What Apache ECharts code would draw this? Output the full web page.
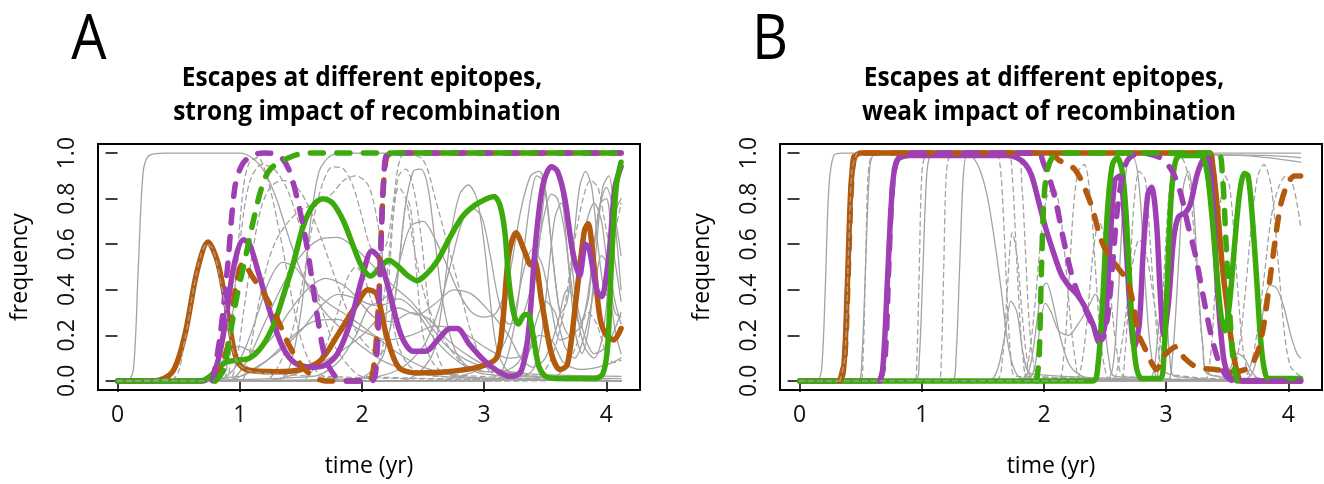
<!DOCTYPE html>
<html><head><meta charset="utf-8">
<script src="https://cdn.jsdelivr.net/npm/echarts@6/dist/echarts.min.js"></script>
<style>html,body{margin:0;padding:0;background:#fff}#chart{width:1324px;height:484px}</style>
</head><body><div id="chart"></div>
<script>
// ---------- axis ticks ----------
const X_TICKS = [0, 1, 2, 3, 4];
const Y_TICKS = [0, 0.2, 0.4, 0.6, 0.8, 1.0];
const PANEL_LETTERS = ['A', 'B'];
const TITLES_A = ['Escapes at different epitopes,', 'strong impact of recombination'];
const TITLES_B = ['Escapes at different epitopes,', 'weak impact of recombination'];
const X_NAME = 'time (yr)';
const Y_NAME = 'frequency';

// ---------- Panel A : highlighted trajectories [time, frequency] ----------
const A_orangeSolid = [[0,0],[0.3,0],[0.45,0.04],[0.55,0.2],[0.65,0.48],[0.74,0.61],[0.82,0.52],[0.9,0.3],[0.97,0.1],[1.05,0.05],[1.3,0.04],[1.5,0.05],[1.66,0.09],[1.8,0.2],[1.95,0.33],[2.05,0.4],[2.12,0.38],[2.2,0.2],[2.3,0.06],[2.45,0.035],[2.7,0.04],[2.95,0.06],[3.1,0.1],[3.15,0.25],[3.2,0.55],[3.26,0.65],[3.33,0.57],[3.38,0.51],[3.41,0.53],[3.47,0.35],[3.55,0.12],[3.62,0.05],[3.68,0.07],[3.75,0.35],[3.82,0.66],[3.85,0.69],[3.9,0.5],[3.95,0.27],[4.0,0.2],[4.06,0.18],[4.12,0.23]];
const A_purpleSolid = [[0,0],[0.7,0],[0.8,0.05],[0.88,0.25],[0.95,0.5],[1.03,0.62],[1.08,0.6],[1.15,0.48],[1.25,0.3],[1.35,0.15],[1.45,0.08],[1.6,0.06],[1.7,0.07],[1.8,0.12],[1.9,0.25],[2.0,0.45],[2.08,0.57],[2.14,0.54],[2.22,0.4],[2.32,0.2],[2.42,0.13],[2.52,0.13],[2.62,0.18],[2.72,0.23],[2.78,0.23],[2.88,0.16],[3.0,0.09],[3.12,0.04],[3.22,0.02],[3.3,0.04],[3.36,0.2],[3.42,0.6],[3.48,0.86],[3.55,0.94],[3.6,0.92],[3.66,0.8],[3.72,0.58],[3.78,0.46],[3.83,0.6],[3.86,0.58],[3.92,0.4],[3.96,0.37],[4.02,0.55],[4.07,0.85],[4.12,0.94]];
const A_greenSolid = [[0,0],[0.68,0],[0.78,0.03],[0.88,0.08],[0.97,0.09],[1.08,0.1],[1.18,0.15],[1.28,0.25],[1.36,0.38],[1.44,0.52],[1.52,0.68],[1.6,0.77],[1.68,0.8],[1.76,0.78],[1.85,0.7],[1.93,0.59],[2.0,0.5],[2.07,0.46],[2.15,0.5],[2.22,0.53],[2.3,0.5],[2.38,0.46],[2.45,0.44],[2.53,0.47],[2.62,0.53],[2.72,0.63],[2.82,0.72],[2.92,0.77],[3.02,0.8],[3.08,0.81],[3.13,0.77],[3.17,0.65],[3.2,0.45],[3.24,0.3],[3.28,0.25],[3.33,0.29],[3.36,0.29],[3.4,0.2],[3.45,0.06],[3.52,0.015],[3.65,0.01],[3.9,0.01],[3.97,0.03],[4.01,0.15],[4.04,0.5],[4.08,0.85],[4.12,0.96]];
const A_orangeDashed = [[0.8,0],[0.9,0.15],[0.97,0.42],[1.03,0.52],[1.1,0.46],[1.2,0.38],[1.3,0.28],[1.4,0.16],[1.5,0.07],[1.6,0.02],[1.7,0],[2.05,0],[2.1,0.08],[2.14,0.4],[2.17,0.8],[2.2,0.98],[2.25,1],[4.12,1]];
const A_purpleDashed = [[0.78,0],[0.84,0.2],[0.9,0.5],[0.96,0.85],[1.02,0.95],[1.1,0.99],[1.2,1],[1.32,0.99],[1.4,0.93],[1.47,0.8],[1.55,0.59],[1.63,0.3],[1.7,0.1],[1.78,0.02],[1.85,0],[2.08,0],[2.12,0.1],[2.15,0.5],[2.18,0.9],[2.22,1],[4.12,1]];
const A_greenDashed = [[0.8,0],[0.87,0.05],[0.92,0.2],[0.98,0.38],[1.03,0.5],[1.11,0.7],[1.18,0.85],[1.25,0.93],[1.4,0.98],[1.55,1],[4.12,1]];

// ---------- Panel A : other trajectories ----------
const A_greySolid = [
 [[0,0],[0.08,0],[0.13,0.05],[0.17,0.5],[0.21,0.92],[0.26,0.99],[0.4,1],[1.0,1],[1.1,0.98],[1.2,0.92],[1.3,0.8],[1.42,0.6],[1.55,0.42],[1.7,0.3],[1.85,0.22],[2.0,0.15],[2.2,0.08],[2.5,0.03],[3.0,0.01],[4.12,0]],
 [[0,0],[0.8,0],[0.95,0.05],[1.05,0.15],[1.15,0.3],[1.25,0.45],[1.35,0.52],[1.45,0.5],[1.55,0.43],[1.7,0.35],[1.9,0.28],[2.1,0.2],[2.3,0.12],[2.5,0.06],[2.8,0.02],[3.2,0.01],[4.12,0]],
 [[0,0],[0.75,0],[0.85,0.08],[0.93,0.14],[1.0,0.15],[1.1,0.13],[1.25,0.18],[1.4,0.3],[1.55,0.4],[1.7,0.45],[1.85,0.42],[2.0,0.35],[2.15,0.33],[2.3,0.36],[2.45,0.3],[2.6,0.18],[2.8,0.08],[3.0,0.03],[4.12,0.01]],
 [[0,0],[0.9,0],[1.1,0.05],[1.3,0.12],[1.5,0.22],[1.65,0.32],[1.8,0.38],[1.95,0.36],[2.1,0.28],[2.25,0.26],[2.4,0.3],[2.55,0.27],[2.7,0.18],[2.9,0.1],[3.1,0.05],[3.4,0.02],[4.12,0]],
 [[0,0],[1.9,0],[2.05,0.03],[2.18,0.12],[2.28,0.4],[2.35,0.75],[2.42,0.92],[2.48,0.93],[2.54,0.85],[2.6,0.6],[2.66,0.35],[2.75,0.15],[2.85,0.07],[3.0,0.04],[3.2,0.05],[3.3,0.1],[3.38,0.3],[3.45,0.6],[3.5,0.85],[3.55,0.95],[3.6,0.93],[3.65,0.75],[3.7,0.45],[3.75,0.2],[3.8,0.12],[3.86,0.25],[3.92,0.6],[3.97,0.85],[4.02,0.9],[4.07,0.7],[4.12,0.4]],
 [[0,0],[2.3,0],[2.45,0.03],[2.58,0.12],[2.66,0.35],[2.73,0.65],[2.8,0.82],[2.87,0.86],[2.94,0.8],[3.0,0.6],[3.05,0.35],[3.1,0.15],[3.18,0.05],[3.3,0.02],[3.4,0.05],[3.47,0.2],[3.53,0.5],[3.58,0.72],[3.63,0.78],[3.7,0.6],[3.76,0.3],[3.82,0.15],[3.9,0.1],[3.97,0.2],[4.03,0.5],[4.08,0.75],[4.12,0.8]],
 [[0,0],[1.6,0.02],[1.8,0.08],[1.95,0.2],[2.05,0.32],[2.15,0.35],[2.25,0.4],[2.32,0.55],[2.4,0.68],[2.5,0.7],[2.6,0.62],[2.7,0.5],[2.8,0.38],[2.9,0.3],[3.0,0.28],[3.1,0.3],[3.2,0.45],[3.3,0.75],[3.38,0.9],[3.45,0.92],[3.5,0.85],[3.56,0.55],[3.62,0.3],[3.7,0.2],[3.8,0.25],[3.88,0.5],[3.94,0.75],[4.0,0.85],[4.06,0.75],[4.12,0.55]],
 [[0,0],[2.0,0.01],[2.3,0.05],[2.5,0.15],[2.62,0.3],[2.72,0.5],[2.82,0.7],[2.9,0.76],[2.98,0.72],[3.05,0.55],[3.12,0.35],[3.2,0.25],[3.3,0.27],[3.4,0.45],[3.48,0.7],[3.55,0.82],[3.6,0.8],[3.66,0.65],[3.72,0.4],[3.78,0.25],[3.85,0.35],[3.9,0.6],[3.95,0.78],[4.0,0.8],[4.05,0.6],[4.12,0.35]],
 [[0,0],[1.2,0],[1.5,0.04],[1.8,0.12],[2.0,0.2],[2.15,0.28],[2.3,0.32],[2.45,0.29],[2.6,0.34],[2.75,0.4],[2.9,0.38],[3.05,0.3],[3.2,0.2],[3.3,0.1],[3.4,0.06],[3.5,0.1],[3.6,0.25],[3.68,0.4],[3.75,0.35],[3.82,0.2],[3.9,0.12],[4.0,0.15],[4.12,0.3]],
 [[0,0],[1.3,0],[1.4,0.05],[1.5,0.3],[1.58,0.7],[1.65,0.92],[1.75,0.99],[1.9,1],[4.12,1]],
 [[0,0],[3.0,0],[3.15,0.05],[3.25,0.25],[3.32,0.55],[3.38,0.8],[3.43,0.9],[3.48,0.88],[3.53,0.7],[3.58,0.45],[3.63,0.3],[3.68,0.35],[3.73,0.6],[3.78,0.85],[3.83,0.92],[3.88,0.85],[3.93,0.6],[3.98,0.4],[4.03,0.35],[4.08,0.2],[4.12,0.12]],
 [[0,0],[3.1,0],[3.25,0.03],[3.35,0.1],[3.42,0.25],[3.5,0.35],[3.58,0.3],[3.66,0.15],[3.74,0.1],[3.82,0.2],[3.9,0.4],[3.96,0.55],[4.02,0.5],[4.07,0.35],[4.12,0.25]],
 [[0,0],[1.0,0.02],[1.2,0.08],[1.4,0.18],[1.6,0.26],[1.8,0.27],[2.0,0.22],[2.2,0.18],[2.4,0.2],[2.6,0.24],[2.8,0.22],[3.0,0.15],[3.2,0.1],[3.35,0.12],[3.45,0.2],[3.55,0.18],[3.65,0.08],[3.8,0.05],[4.0,0.07],[4.12,0.1]],
 [[0,0],[0.9,0],[1.05,0.08],[1.2,0.25],[1.35,0.42],[1.5,0.55],[1.65,0.62],[1.8,0.63],[1.95,0.58],[2.1,0.5],[2.25,0.42],[2.4,0.35],[2.55,0.25],[2.7,0.15],[2.9,0.08],[3.1,0.05],[3.4,0.03],[4.12,0.02]],
 [[0,0],[2.6,0],[2.8,0.02],[3.0,0.06],[3.15,0.15],[3.25,0.3],[3.33,0.5],[3.4,0.58],[3.48,0.5],[3.55,0.32],[3.62,0.18],[3.7,0.2],[3.78,0.45],[3.84,0.7],[3.9,0.78],[3.96,0.7],[4.02,0.45],[4.07,0.3],[4.12,0.28]]
];
const A_greyDashed = [
 [[0,0],[0.85,0],[0.9,0.1],[0.95,0.35],[1.0,0.6],[1.05,0.8],[1.1,0.9],[1.18,0.95],[1.28,0.93],[1.38,0.85],[1.48,0.7],[1.58,0.5],[1.68,0.3],[1.78,0.15],[1.9,0.06],[2.0,0.02],[4.12,0]],
 [[0,0],[0.9,0],[0.97,0.08],[1.03,0.3],[1.1,0.55],[1.17,0.75],[1.25,0.85],[1.35,0.88],[1.45,0.86],[1.55,0.78],[1.65,0.65],[1.75,0.5],[1.85,0.35],[1.95,0.22],[2.05,0.15],[2.15,0.12],[2.22,0.2],[2.28,0.4],[2.33,0.65],[2.37,0.8],[2.4,0.75],[2.45,0.45],[2.5,0.2],[2.58,0.08],[2.7,0.03],[4.12,0]],
 [[0,0],[1.0,0],[1.07,0.1],[1.14,0.3],[1.22,0.5],[1.3,0.62],[1.4,0.7],[1.5,0.75],[1.62,0.78],[1.75,0.82],[1.85,0.88],[1.95,0.9],[2.05,0.86],[2.12,0.72],[2.18,0.5],[2.24,0.3],[2.3,0.15],[2.4,0.06],[2.6,0.02],[4.12,0]],
 [[0,0],[0.88,0],[0.93,0.2],[0.98,0.55],[1.03,0.85],[1.08,0.96],[1.15,0.98],[1.22,0.9],[1.3,0.72],[1.38,0.5],[1.45,0.3],[1.52,0.15],[1.6,0.06],[1.7,0.02],[4.12,0]],
 [[0,0],[1.2,0],[1.3,0.05],[1.42,0.2],[1.52,0.45],[1.6,0.7],[1.68,0.87],[1.76,0.94],[1.85,0.93],[1.93,0.85],[2.0,0.72],[2.06,0.6],[2.12,0.55],[2.2,0.6],[2.26,0.8],[2.3,0.95],[2.35,1.0],[2.5,0.97],[2.6,0.8],[2.7,0.6],[2.8,0.4],[2.9,0.2],[3.0,0.08],[3.1,0.02],[4.12,0]],
 [[0,0],[1.5,0],[1.6,0.05],[1.7,0.15],[1.8,0.3],[1.88,0.45],[1.95,0.5],[2.02,0.45],[2.08,0.35],[2.14,0.3],[2.2,0.45],[2.25,0.7],[2.3,0.85],[2.36,0.8],[2.42,0.6],[2.5,0.4],[2.6,0.25],[2.75,0.12],[2.9,0.05],[4.12,0]],
 [[0,0],[3.3,0],[3.45,0.02],[3.55,0.1],[3.65,0.3],[3.72,0.55],[3.8,0.78],[3.87,0.88],[3.93,0.85],[3.98,0.72],[4.03,0.6],[4.08,0.68],[4.12,0.78]],
 [[0,0],[3.5,0],[3.65,0.05],[3.75,0.15],[3.85,0.3],[3.92,0.25],[4.0,0.12],[4.06,0.08],[4.12,0.09]],
 [[0,0],[2.0,0],[2.1,0.03],[2.17,0.15],[2.22,0.45],[2.26,0.75],[2.3,0.9],[2.36,0.93],[2.42,0.85],[2.48,0.65],[2.53,0.4],[2.58,0.2],[2.65,0.07],[2.75,0.02],[4.12,0]]
];
// grey dashed trajectories drawn above the coloured ones
const A_greyDashedTop = [
 [[0,0],[0.45,0.01],[0.55,0.18],[0.62,0.4],[0.68,0.55],[0.73,0.6],[0.78,0.58],[0.85,0.42],[0.92,0.2],[0.98,0.08],[1.1,0.04],[1.3,0.03],[1.6,0.02],[1.8,0.01]],
 [[0,0],[0.75,0]]
];

// ---------- Panel B : highlighted trajectories ----------
const B_orangeSolid = [[0,0],[0.32,0],[0.36,0.05],[0.39,0.4],[0.42,0.85],[0.45,0.98],[0.5,1],[3.35,1],[3.38,0.95],[3.42,0.75],[3.46,0.5],[3.5,0.32],[3.54,0.15],[3.58,0.04],[3.62,0],[4.1,0]];
const B_purpleSolid = [[0,0],[0.64,0],[0.68,0.05],[0.72,0.45],[0.76,0.85],[0.8,0.97],[0.9,0.99],[1.7,0.99],[1.78,0.98],[1.85,0.95],[1.9,0.9],[1.96,0.78],[2.02,0.66],[2.08,0.56],[2.14,0.47],[2.2,0.42],[2.27,0.38],[2.33,0.33],[2.4,0.25],[2.45,0.17],[2.5,0.25],[2.54,0.6],[2.58,0.88],[2.62,0.9],[2.66,0.7],[2.7,0.35],[2.74,0.15],[2.78,0.25],[2.81,0.55],[2.85,0.82],[2.88,0.85],[2.92,0.7],[2.95,0.4],[2.98,0.2],[3.02,0.35],[3.06,0.62],[3.1,0.72],[3.16,0.74],[3.2,0.78],[3.25,0.9],[3.3,0.97],[3.34,0.98],[3.38,0.8],[3.42,0.4],[3.47,0.1],[3.52,0.02],[3.6,0],[4.1,0]];
const B_greenSolid = [[0,0],[2.4,0],[2.44,0.06],[2.48,0.35],[2.52,0.75],[2.56,0.95],[2.6,0.98],[2.64,0.92],[2.67,0.75],[2.7,0.45],[2.73,0.18],[2.76,0.05],[2.8,0.01],[2.95,0.01],[2.98,0.1],[3.01,0.45],[3.04,0.8],[3.07,0.95],[3.11,0.99],[3.28,0.99],[3.33,0.93],[3.37,0.75],[3.41,0.5],[3.45,0.28],[3.48,0.22],[3.52,0.35],[3.56,0.6],[3.6,0.82],[3.64,0.91],[3.67,0.9],[3.7,0.75],[3.74,0.45],[3.77,0.2],[3.8,0.06],[3.84,0.01],[4.1,0.01]];
const B_orangeDashed = [[0.33,0],[0.37,0.1],[0.4,0.5],[0.43,0.9],[0.47,1],[2.05,1],[2.12,0.97],[2.25,0.93],[2.33,0.85],[2.4,0.75],[2.46,0.63],[2.52,0.56],[2.6,0.5],[2.68,0.44],[2.73,0.34],[2.77,0.21],[2.82,0.15],[2.88,0.08],[2.92,0.05],[2.96,0.09],[3.0,0.12],[3.08,0.15],[3.15,0.1],[3.25,0.06],[3.4,0.05],[3.55,0.04],[3.68,0.06],[3.75,0.13],[3.8,0.25],[3.85,0.45],[3.9,0.65],[3.94,0.78],[3.99,0.86],[4.05,0.9],[4.1,0.9]];
const B_purpleDashed = [[0.66,0],[0.7,0.1],[0.73,0.5],[0.76,0.85],[0.8,0.97],[0.9,1],[1.95,1],[2.0,0.95],[2.05,0.88],[2.1,0.78],[2.16,0.62],[2.22,0.48],[2.28,0.38],[2.35,0.3],[2.42,0.22],[2.47,0.18],[2.52,0.28],[2.56,0.5],[2.6,0.75],[2.65,0.92],[2.7,0.98],[2.8,1],[2.95,0.98],[3.05,0.92],[3.12,0.82],[3.18,0.68],[3.24,0.55],[3.3,0.38],[3.36,0.22],[3.42,0.1],[3.48,0.03],[3.55,0],[4.1,0]];
const B_greenDashed = [[1.94,0],[1.96,0.1],[1.98,0.5],[2.0,0.8],[2.03,0.93],[2.08,0.99],[2.15,1],[3.42,1],[3.46,0.9],[3.49,0.6],[3.52,0.3],[3.55,0.08],[3.58,0]];

// ---------- Panel B : other trajectories ----------
const B_greySolid = [
 [[0,0],[0.14,0],[0.18,0.05],[0.21,0.4],[0.24,0.85],[0.28,0.99],[0.35,1],[4.1,1]],
 [[0,0],[0.48,0],[0.51,0.1],[0.54,0.5],[0.57,0.9],[0.6,0.99],[0.7,1],[3.6,0.99],[4.1,0.96]],
 [[0,0],[0.95,0],[0.98,0.1],[1.01,0.5],[1.04,0.9],[1.07,0.99],[1.15,1],[3.8,0.99],[4.1,0.98]],
 [[0,0],[1.25,0],[1.28,0.1],[1.31,0.5],[1.34,0.9],[1.37,0.99],[1.42,0.98],[1.48,0.92],[1.54,0.8],[1.6,0.6],[1.65,0.4],[1.7,0.18],[1.75,0.06],[1.82,0.01],[4.1,0]],
 [[0,0],[1.8,0],[1.88,0.05],[1.94,0.25],[1.98,0.4],[2.02,0.43],[2.07,0.35],[2.13,0.2],[2.2,0.08],[2.28,0.03],[2.4,0.01],[4.1,0]],
 [[0,0],[1.85,0],[1.92,0.05],[1.97,0.25],[2.01,0.34],[2.06,0.3],[2.12,0.22],[2.2,0.2],[2.28,0.25],[2.36,0.32],[2.42,0.38],[2.48,0.3],[2.53,0.1],[2.58,0.02],[4.1,0]],
 [[0,0],[2.5,0],[2.56,0.05],[2.6,0.3],[2.64,0.7],[2.68,0.95],[2.73,0.98],[2.78,0.85],[2.82,0.5],[2.86,0.2],[2.9,0.05],[2.95,0],[4.1,0]],
 [[0,0],[2.85,0],[2.9,0.05],[2.94,0.25],[2.97,0.35],[3.0,0.3],[3.03,0.1],[3.07,0.02],[4.1,0]],
 [[0,0],[3.0,0],[3.05,0.1],[3.1,0.5],[3.14,0.85],[3.18,0.92],[3.22,0.8],[3.26,0.45],[3.3,0.15],[3.34,0.03],[4.1,0]],
 [[0,0],[3.6,0],[3.7,0.03],[3.76,0.15],[3.8,0.33],[3.85,0.42],[3.9,0.41],[3.96,0.33],[4.02,0.2],[4.07,0.12],[4.1,0.1]],
 [[0,0],[3.45,0],[3.52,0.05],[3.58,0.12],[3.64,0.1],[3.7,0.04],[3.76,0.01],[4.1,0]],
 [[0,0],[1.55,0],[1.62,0.05],[1.68,0.2],[1.73,0.35],[1.78,0.3],[1.83,0.12],[1.9,0.03],[4.1,0]]
];
const B_greyDashed = [
 [[0,0],[0.5,0],[0.52,0.1],[0.54,0.5],[0.56,0.9],[0.59,0.99],[0.65,1],[1.6,1],[1.64,0.95],[1.67,0.7],[1.7,0.35],[1.73,0.1],[1.77,0.02],[4.1,0]],
 [[0,0],[0.94,0],[0.96,0.1],[0.98,0.5],[1.0,0.9],[1.03,0.99],[1.1,1],[1.7,1],[1.74,0.9],[1.77,0.6],[1.8,0.3],[1.83,0.1],[1.87,0.02],[4.1,0]],
 [[0,0],[1.14,0],[1.16,0.1],[1.18,0.5],[1.2,0.9],[1.23,0.99],[1.3,1],[1.78,1],[1.82,0.85],[1.85,0.55],[1.88,0.25],[1.92,0.06],[1.96,0],[4.1,0]],
 [[0,0],[1.6,0],[1.66,0.1],[1.7,0.4],[1.74,0.65],[1.78,0.55],[1.82,0.3],[1.86,0.1],[1.9,0.02],[4.1,0]],
 [[0,0],[1.8,0],[1.86,0.05],[1.92,0.3],[1.97,0.6],[2.02,0.8],[2.08,0.85],[2.13,0.75],[2.18,0.5],[2.22,0.25],[2.26,0.08],[2.3,0.01],[4.1,0]],
 [[0,0],[2.1,0],[2.16,0.1],[2.2,0.4],[2.24,0.75],[2.28,0.92],[2.33,0.95],[2.38,0.8],[2.42,0.5],[2.46,0.2],[2.5,0.05],[2.55,0],[4.1,0]],
 [[0,0],[2.62,0],[2.66,0.1],[2.7,0.45],[2.74,0.8],[2.78,0.92],[2.83,0.88],[2.87,0.6],[2.91,0.3],[2.95,0.08],[3.0,0],[4.1,0]],
 [[0,0],[2.55,0],[2.6,0.05],[2.66,0.25],[2.72,0.5],[2.78,0.62],[2.84,0.55],[2.9,0.35],[2.96,0.15],[3.02,0.03],[4.1,0]],
 [[0,0],[2.9,0],[2.94,0.1],[2.98,0.45],[3.02,0.8],[3.06,0.95],[3.12,0.98],[3.18,0.9],[3.22,0.7],[3.26,0.4],[3.3,0.15],[3.35,0.03],[4.1,0]],
 [[0,0],[3.3,0],[3.36,0.1],[3.4,0.4],[3.44,0.75],[3.48,0.9],[3.52,0.85],[3.56,0.6],[3.6,0.3],[3.64,0.1],[3.7,0.02],[4.1,0]],
 [[0,0],[3.6,0],[3.68,0.05],[3.74,0.2],[3.8,0.45],[3.86,0.72],[3.92,0.85],[3.98,0.9],[4.03,0.87],[4.07,0.78],[4.1,0.68]],
 [[0,0],[3.5,0],[3.58,0.1],[3.64,0.35],[3.7,0.7],[3.75,0.9],[3.8,0.95],[3.86,0.85],[3.92,0.5],[3.97,0.2],[4.02,0.06],[4.1,0.02]],
 [[0,0],[2.25,0],[2.3,0.05],[2.35,0.25],[2.4,0.55],[2.45,0.7],[2.5,0.62],[2.55,0.35],[2.6,0.12],[2.66,0.02],[4.1,0]]
];
const B_greyDashedTop = [
 [[0.33,0],[0.37,0.1],[0.4,0.55],[0.43,0.93],[0.47,1]],
 [[0,0],[2.35,0]]
];

// ---------- styling ----------
const C_ORANGE = '#B35A0C', C_PURPLE = '#9E3FB4', C_GREEN = '#3DAA0C', C_GREY = '#A3A3A3';
const FONT = '"Open Sans", "DejaVu Sans", sans-serif';
const BOX = [{left: 98, top: 144, width: 542, height: 246}, {left: 780, top: 144, width: 542, height: 246}];
const THICK = 5.5, THIN = 1.3;
const BIG_DASH = [13, 13.5], SMALL_DASH = [5, 4];
const AXIS_FS = 23;

function ln(data, gi, color, width, type, z) {
  return {type: 'line', xAxisIndex: gi, yAxisIndex: gi, data: data, symbol: 'none', showSymbol: false,
    smooth: 0.3, z: z, silent: true, animation: false,
    lineStyle: {color: color, width: width, type: type, cap: 'round', join: 'round'}};
}

const series = [];
function addPanel(gi, gs, gd, os, ps, gsol, od, pd, gdash, gtop) {
  gs.forEach(d => series.push(ln(d, gi, C_GREY, THIN, 'solid', 2)));
  gd.forEach(d => series.push(ln(d, gi, C_GREY, THIN, SMALL_DASH, 2)));
  series.push(ln(os, gi, C_ORANGE, THICK, 'solid', 3));
  series.push(ln(ps, gi, C_PURPLE, THICK, 'solid', 3));
  series.push(ln(gsol, gi, C_GREEN, THICK, 'solid', 3));
  series.push(ln(od, gi, C_ORANGE, THICK, BIG_DASH, 3));
  series.push(ln(pd, gi, C_PURPLE, THICK, BIG_DASH, 3));
  series.push(ln(gdash, gi, C_GREEN, THICK, BIG_DASH, 3));
  gtop.forEach(d => series.push(ln(d, gi, C_GREY, THIN, SMALL_DASH, 4)));
}
addPanel(0, A_greySolid, A_greyDashed, A_orangeSolid, A_purpleSolid, A_greenSolid, A_orangeDashed, A_purpleDashed, A_greenDashed, A_greyDashedTop);
addPanel(1, B_greySolid, B_greyDashed, B_orangeSolid, B_purpleSolid, B_greenSolid, B_orangeDashed, B_purpleDashed, B_greenDashed, B_greyDashedTop);

const grids = BOX.map(b => Object.assign({show: true, borderColor: '#000', borderWidth: 2, backgroundColor: 'transparent', containLabel: false}, b));
const xAxes = [0, 1].map(i => ({type: 'value', gridIndex: i, min: -0.16, max: 4.275,
  axisLine: {show: false}, splitLine: {show: false},
  axisTick: {show: true, customValues: X_TICKS, length: 11, lineStyle: {color: '#000', width: 1.5}},
  axisLabel: {customValues: X_TICKS, margin: 14, fontSize: AXIS_FS, color: '#111', fontFamily: FONT}}));
const yAxes = [0, 1].map(i => ({type: 'value', gridIndex: i, min: -0.04, max: 1.04,
  axisLine: {show: false}, splitLine: {show: false},
  axisTick: {show: true, customValues: Y_TICKS, length: 12, lineStyle: {color: '#000', width: 1.5}},
  axisLabel: {customValues: Y_TICKS, rotate: 90, margin: 19, fontSize: AXIS_FS, color: '#111', fontFamily: FONT,
    formatter: v => Number(v).toFixed(1)}}));

function txt(x, y, text, size, weight, rot, scaleX) {
  return {type: 'text', x: x, y: y, rotation: rot || 0, scaleX: scaleX || 1, silent: true, z: 10,
    style: {text: text, x: 0, y: 0, fill: '#000', font: weight + ' ' + size + 'px ' + FONT,
      align: 'center', verticalAlign: 'middle', textAlign: 'center', textVerticalAlign: 'middle'}};
}
const titles = [TITLES_A, TITLES_B];
const graphic = [];
BOX.forEach((b, i) => {
  const cx = b.left + b.width / 2;
  graphic.push(txt(i === 0 ? 89 : 770, 41, PANEL_LETTERS[i], 62, 'normal', 0, 0.9));
  graphic.push(txt(cx - 7, 79, titles[i][0], 26, 'bold', 0, 0.94));
  graphic.push(txt(cx - 2, 113, titles[i][1], 26, 'bold', 0, 0.94));
  graphic.push(txt(b.left - 78, b.top + b.height / 2, Y_NAME, AXIS_FS, 'normal', Math.PI / 2));
  graphic.push(txt(cx, 466, X_NAME, AXIS_FS, 'normal'));
});

const chart = echarts.init(document.getElementById('chart'), null, {renderer: 'canvas'});
chart.setOption({animation: false, backgroundColor: '#fff', grid: grids, xAxis: xAxes, yAxis: yAxes, series: series, graphic: graphic});
</script></body></html>
